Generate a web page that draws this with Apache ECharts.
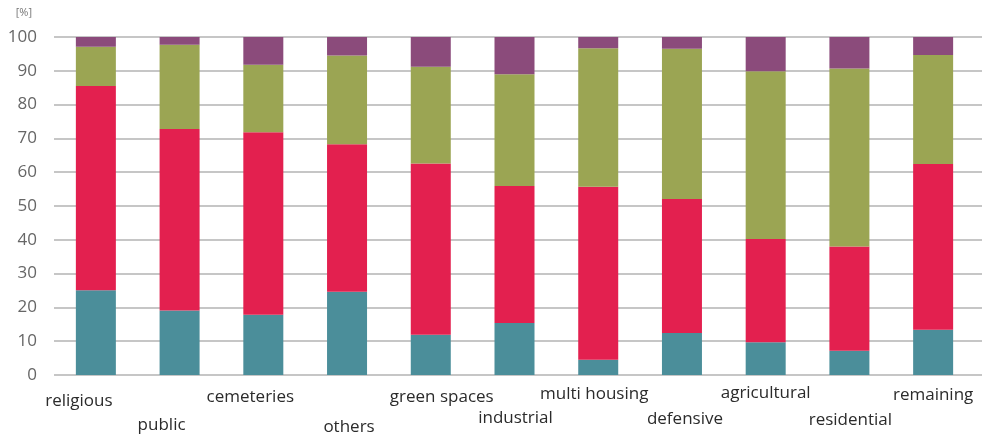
<!DOCTYPE html>
<html>
<head>
<meta charset="utf-8">
<script src="https://cdn.jsdelivr.net/npm/echarts@6/dist/echarts.min.js"></script>
<style>
  html, body { margin: 0; padding: 0; background: #fff; }
  #chart { width: 982px; height: 437px; }
</style>
</head>
<body>
<div id="chart"></div>
<script>
// Land-use categories along the x axis
const categories = ['religious', 'public', 'cemeteries', 'others', 'green spaces', 'industrial',
  'multi housing', 'defensive', 'agricultural', 'residential', 'remaining'];

// Stacked shares per category, in percent (bottom to top)
const teal   = [25.1, 19.1, 17.8, 24.6, 11.9, 15.4, 4.5, 12.4, 9.7, 7.2, 13.4];
const red    = [60.4, 53.7, 54.0, 43.7, 50.7, 40.5, 51.2, 39.7, 30.5, 30.8, 49.0];
const green  = [11.6, 24.9, 20.0, 26.2, 28.6, 33.1, 41.0, 44.4, 49.7, 52.7, 32.3];
const purple = [2.9, 2.3, 8.2, 5.5, 8.8, 11.0, 3.3, 3.5, 10.1, 9.3, 5.3];

// Y axis ticks
const yMin = 0, yMax = 100, yStep = 10;

// Label placement under each bar: [horizontal shift, extra drop] in px
const labelShift = [
  [-17, 4], [-18, 28], [-13, 0], [2, 30], [11, 0], [1, 21],
  [-4, -3], [3, 22], [0, -4], [1, 23], [0, -2]
];

const colors = { teal: '#4b8e9a', red: '#e3204f', green: '#9ba553', purple: '#8b4b7b' };

const rich = {};
labelShift.forEach(([dx, dy], i) => {
  rich['l' + i] = {
    fontFamily: 'Open Sans',
    fontSize: 17,
    color: '#2b2b2b',
    padding: [dy, dx < 0 ? -2 * dx : 0, 0, dx > 0 ? 2 * dx : 0]
  };
});

const chart = echarts.init(document.getElementById('chart'));

const mkSeries = (name, data, color) => ({
  name, type: 'bar', stack: 'all', data,
  xAxisIndex: 1, yAxisIndex: 1,
  barWidth: 40,
  itemStyle: { color },
  emphasis: { disabled: true }
});

chart.setOption({
  animation: false,
  grid: [
    { left: 54, right: 0, top: 37, bottom: 62 },
    { left: 54, right: 7, top: 37, bottom: 62 }
  ],
  xAxis: [
    { type: 'value', gridIndex: 0, show: false, min: 0, max: 1 },
    {
      type: 'category', gridIndex: 1, data: categories,
      axisLine: { show: false }, axisTick: { show: false },
      axisLabel: {
        interval: 0, margin: 14,
        formatter: (v, i) => `{l${i}|${v}}`,
        rich
      }
    }
  ],
  yAxis: [
    {
      type: 'value', gridIndex: 0, min: yMin, max: yMax, interval: yStep,
      name: '[%]', nameLocation: 'end', nameGap: 24,
      nameTextStyle: { fontFamily: 'Open Sans', fontSize: 11, color: '#777',
        align: 'right', verticalAlign: 'middle', padding: [0, 22, 0, 0] },
      axisLine: { show: false }, axisTick: { show: false },
      axisLabel: { margin: 17, fontFamily: 'Open Sans', fontSize: 17, color: '#666' },
      splitLine: { show: true, lineStyle: { color: '#b3b3b3', width: 1.5 } }
    },
    {
      type: 'value', gridIndex: 1, min: yMin, max: yMax, interval: yStep, show: false,
      splitLine: { show: false }
    }
  ],
  series: [
    mkSeries('teal', teal, colors.teal),
    mkSeries('red', red, colors.red),
    mkSeries('green', green, colors.green),
    mkSeries('purple', purple, colors.purple)
  ]
});
</script>
</body>
</html>
